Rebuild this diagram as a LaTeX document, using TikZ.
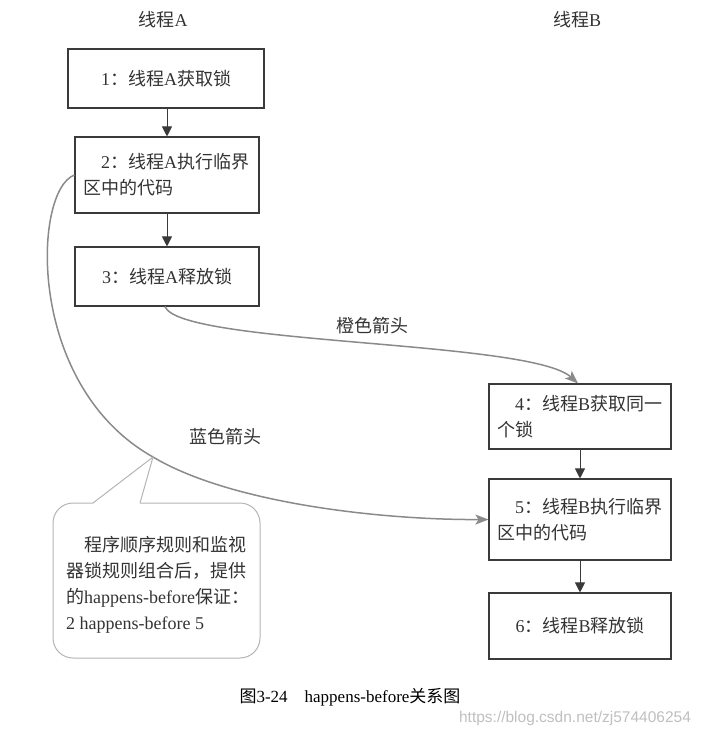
\documentclass[tikz,border=0pt]{standalone}
\usepackage{fontspec}
\setmainfont{Liberation Serif}
\newfontfamily\cjk{Noto Sans CJK SC}
\newfontfamily\wmfont{Liberation Sans}
\usetikzlibrary{arrows.meta}
\newcommand{\zh}[1]{{\cjk #1}}
\definecolor{txt}{HTML}{333333}
\definecolor{edge}{HTML}{3A3A3A}
\definecolor{curve}{HTML}{8A8A8A}
\definecolor{callout}{HTML}{B4B4B4}
\begin{document}
\begin{tikzpicture}[x=1pt,y=-1pt,
  every node/.style={text=txt,font=\fontsize{18}{26}\selectfont},
  box/.style={draw=edge,line width=1.1pt,inner xsep=8pt,inner ysep=0pt},
  onebox/.style={box,align=center},
  twobox/.style={box,align=left},
  flow/.style={edge,line width=1pt,-{Triangle[length=10pt,width=10pt]}},
  link/.style={curve,line width=1.5pt,-{Stealth[length=13pt,width=10pt,inset=3pt]}},
  lbl/.style={inner sep=0pt}]
\useasboundingbox (0,0) rectangle (705,736);

% headers
\node[lbl] (hA) at (163,20) {\zh{线程}A};
\node[lbl] (hB) at (577,20) {\zh{线程}B};

% thread A
\node[onebox,minimum width=196pt,minimum height=59pt] (b1) at (166,78.5) {1\zh{：线程}A\zh{获取锁}};
\node[twobox,text width=168pt,minimum height=76pt] (b2) at (167,175) {\hspace*{1em}2\zh{：线程}A\zh{执行临界}\\\zh{区中的代码}};
\node[onebox,minimum width=184pt,minimum height=59pt] (b3) at (167,276.5) {3\zh{：线程}A\zh{释放锁}};

% thread B
\node[twobox,text width=166pt,minimum height=65pt] (b4) at (580,416.5) {\hspace*{1em}4\zh{：线程}B\zh{获取同一}\\\zh{个锁}};
\node[twobox,text width=166pt,minimum height=81pt] (b5) at (580,519.5) {\hspace*{1em}5\zh{：线程}B\zh{执行临界}\\\zh{区中的代码}};
\node[onebox,minimum width=182pt,minimum height=66pt] (b6) at (580,626) {6\zh{：线程}B\zh{释放锁}};

% vertical arrows
\draw[flow] (b2.north |- b1.south) -- (b2.north);
\draw[flow] (b2.south) -- (b3.north);
\draw[flow] (b4.south) -- (b5.north);
\draw[flow] (b5.south) -- (b6.north);

% orange arrow
\coordinate (o1) at ([xshift=-2pt]b3.south);
\coordinate (o2) at ([xshift=-2pt]b4.north);
\draw[link] (o1) .. controls (180,345) and (530,340) .. (o2);
\node[lbl] (lo) at (372,326) {\zh{橙色箭头}};

% blue arrow
\coordinate (tip) at (153,457);
\draw[link] (b2.west) .. controls (33,190) and (25,385) .. (tip)
  .. controls (230,503) and (380,520) .. (b5.west);
\node[lbl] (lb) at (225,437) {\zh{蓝色箭头}};

% callout
\draw[callout,line width=1pt,rounded corners=20pt] (93,503) -- (53,503) -- (53,658) -- (260,658) -- (260,503) -- (140,503);
\draw[callout,line width=1pt] (140,503) -- (tip) -- (93,503);
\node[lbl,align=left,anchor=north west] (note) at (66,536)
  {\hspace*{1em}\zh{程序顺序规则和监视}\\\zh{器锁规则组合后，提供}\\\zh{的}happens-before\zh{保证：}\\2 happens-before 5};

% caption and watermark
\node[lbl,font=\fontsize{17}{20}\selectfont,text=black] (cap) at (350,697) {\zh{图}3-24\quad happens-before\zh{关系图}};
\node[lbl,font=\wmfont\fontsize{15.5}{17}\selectfont,text=black!25] (wm) at (575,718) {https://blog.csdn.net/zj574406254};
\end{tikzpicture}
\end{document}
